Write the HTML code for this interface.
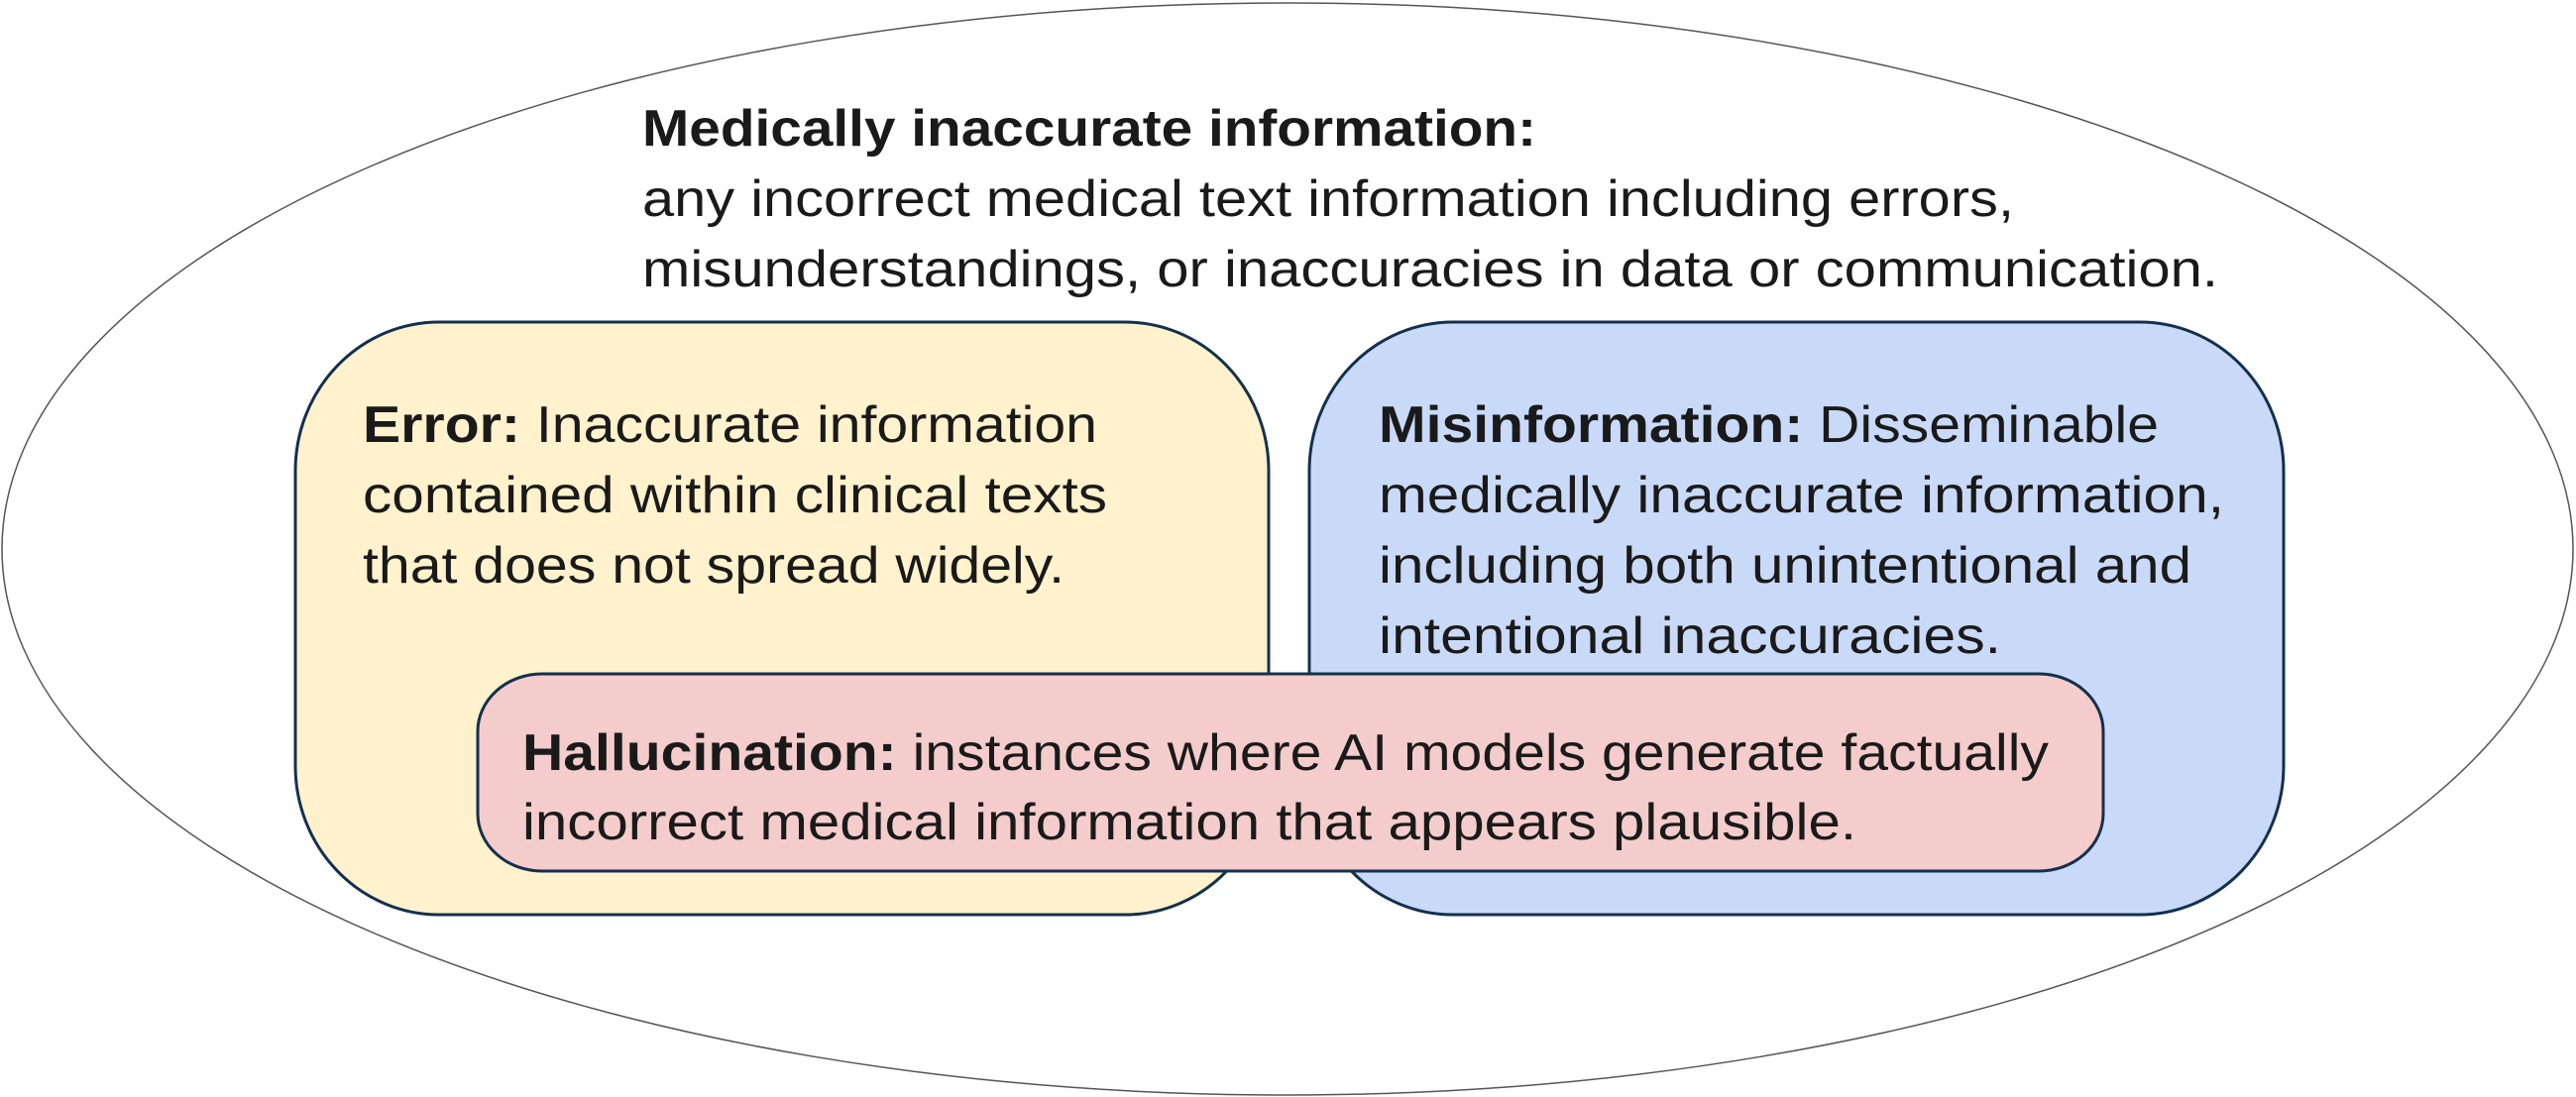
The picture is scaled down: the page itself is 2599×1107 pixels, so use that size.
<!DOCTYPE html>
<html><head><meta charset="utf-8"><style>html,body{margin:0;padding:0;background:#fff}svg{display:block}</style></head>
<body>
<svg width="2599" height="1107" viewBox="0 0 2599 1107" xmlns="http://www.w3.org/2000/svg" font-family="'Liberation Sans', sans-serif" font-size="52" fill="#1a1a1a">
<ellipse cx="1299" cy="554" rx="1297" ry="551" fill="#fff" stroke="#555" stroke-width="1.5"/>
<rect x="298" y="325" width="982" height="598" rx="145" ry="150" fill="#fff2cc" stroke="#13304f" stroke-width="3"/>
<rect x="1321" y="325" width="983" height="598" rx="145" ry="150" fill="#c9daf8" stroke="#13304f" stroke-width="3"/>
<rect x="482" y="680" width="1640" height="199" rx="65" ry="58" fill="#f4cccc" stroke="#13304f" stroke-width="3"/>
<g fill="#1a1a1a">
<text x="648" y="147" font-weight="bold" textLength="902" lengthAdjust="spacingAndGlyphs">Medically inaccurate information:</text>
<text x="648" y="218" textLength="1384" lengthAdjust="spacingAndGlyphs">any incorrect medical text information including errors,</text>
<text x="648" y="289" textLength="1590" lengthAdjust="spacingAndGlyphs">misunderstandings, or inaccuracies in data or communication.</text>

<text x="366" y="446" textLength="741" lengthAdjust="spacingAndGlyphs"><tspan font-weight="bold">Error:</tspan> Inaccurate information</text>
<text x="366" y="517" textLength="751" lengthAdjust="spacingAndGlyphs">contained within clinical texts</text>
<text x="366" y="588" textLength="708" lengthAdjust="spacingAndGlyphs">that does not spread widely.</text>

<text x="1391" y="446" textLength="787" lengthAdjust="spacingAndGlyphs"><tspan font-weight="bold">Misinformation:</tspan> Disseminable</text>
<text x="1391" y="517" textLength="853" lengthAdjust="spacingAndGlyphs">medically inaccurate information,</text>
<text x="1391" y="588" textLength="820" lengthAdjust="spacingAndGlyphs">including both unintentional and</text>
<text x="1391" y="659" textLength="628" lengthAdjust="spacingAndGlyphs">intentional inaccuracies.</text>

<text x="527" y="777" textLength="1540" lengthAdjust="spacingAndGlyphs"><tspan font-weight="bold">Hallucination:</tspan> instances where AI models generate factually</text>
<text x="527" y="847" textLength="1346" lengthAdjust="spacingAndGlyphs">incorrect medical information that appears plausible.</text>
</g>
</svg>
</body></html>
